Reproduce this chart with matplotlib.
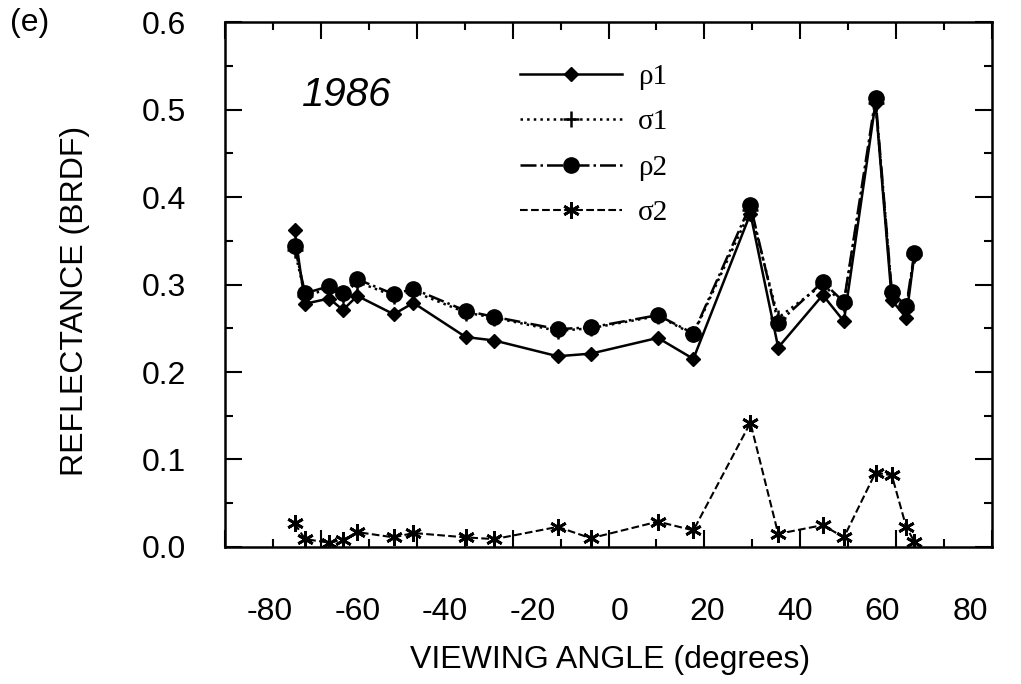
import numpy as np
import matplotlib
import matplotlib.pyplot as plt
from matplotlib.ticker import MultipleLocator

matplotlib.use("Agg")
plt.rcParams["font.family"] = ["Liberation Sans", "DejaVu Sans"]
plt.rcParams["axes.unicode_minus"] = False

angle = [-65.5, -63.3, -58.3, -55.4, -52.4, -44.8, -40.7, -29.8, -23.8, -10.6, -3.7,
         10.3, 17.7, 29.6, 35.4, 44.7, 49.1, 55.7, 59.1, 62.1, 63.8]

rho1 = [0.362, 0.278, 0.284, 0.271, 0.287, 0.266, 0.279, 0.240, 0.236, 0.218, 0.221,
        0.239, 0.215, 0.381, 0.228, 0.288, 0.258, 0.508, 0.282, 0.262, 0.334]

sigma1 = [0.340, 0.287, 0.295, 0.288, 0.303, 0.287, 0.292, 0.268, 0.262, 0.247, 0.250,
          0.264, 0.243, 0.385, 0.262, 0.300, 0.278, 0.508, 0.290, 0.272, 0.334]

rho2 = [0.344, 0.290, 0.298, 0.290, 0.306, 0.289, 0.295, 0.270, 0.263, 0.249, 0.251,
        0.265, 0.244, 0.391, 0.256, 0.303, 0.280, 0.513, 0.292, 0.275, 0.336]

sigma2 = [0.027, 0.009, 0.005, 0.008, 0.017, 0.011, 0.016, 0.011, 0.009, 0.023, 0.010,
          0.029, 0.019, 0.142, 0.015, 0.025, 0.011, 0.085, 0.082, 0.023, 0.006]

x_labels = [-80, -60, -40, -20, 0, 20, 40, 60, 80]

# =----------------------------------------------------------------------------

fig = plt.figure(figsize=(10.21, 6.84), dpi=100)
ax = fig.add_axes([0.2204, 0.2003, 0.7512, 0.7675])

ax.plot(angle, rho1, "-", color="black", lw=1.8, marker="D", ms=7.5, label="ρ1")
ax.plot(angle, sigma1, ":", color="black", lw=1.8, marker="+", ms=11, mew=1.8, label="σ1")
ax.plot(angle, rho2, "-.", color="black", lw=1.8, marker="o", ms=11, label="ρ2")
ax.plot(angle, sigma2, "--", color="black", lw=1.5, marker=(6, 2, 0), ms=12, mew=2,
        label="σ2")

ax.set_xlim(-80, 80)
ax.set_ylim(0, 0.6)
ax.xaxis.set_major_locator(MultipleLocator(20))
ax.xaxis.set_minor_locator(MultipleLocator(10))
ax.yaxis.set_major_locator(MultipleLocator(0.1))
ax.yaxis.set_minor_locator(MultipleLocator(0.05))
ax.tick_params(which="both", direction="in", top=True, right=True, width=1.5)
ax.tick_params(which="major", length=12)
ax.tick_params(which="minor", length=6)
ax.tick_params(axis="x", labelbottom=False)
ax.tick_params(axis="y", labelsize=23, pad=28)
ax.yaxis.set_major_formatter(matplotlib.ticker.FormatStrFormatter("%.1f"))
for s in ax.spines.values():
    s.set_linewidth(1.8)

# the printed x labels sit a bit off the tick marks in the original
sec = ax.secondary_xaxis("bottom", functions=(lambda x: (x - 2.4) / 0.9126,
                                              lambda v: v * 0.9126 + 2.4))
sec.set_xticks(x_labels)
sec.tick_params(length=0, labelsize=23, pad=36)
sec.spines["bottom"].set_visible(False)

fig.text(0.598, 0.035, "VIEWING ANGLE (degrees)", fontsize=23, ha="center", va="center")
fig.text(0.073, 0.56, "REFLECTANCE (BRDF)", fontsize=23, ha="center", va="center",
         rotation=90)
fig.text(0.01, 0.966, "(e)", fontsize=23, ha="left", va="center")
ax.text(0.1, 0.84, "1986", fontsize=29, style="italic", transform=ax.transAxes)

ax.legend(loc="upper left", bbox_to_anchor=(0.509, 0.907), bbox_transform=fig.transFigure,
          frameon=False, prop={"family": "Liberation Serif", "size": 21},
          handlelength=3.5, handletextpad=0.55, labelspacing=0.65,
          borderpad=0, borderaxespad=0)

fig.savefig("out.png", dpi=100)
